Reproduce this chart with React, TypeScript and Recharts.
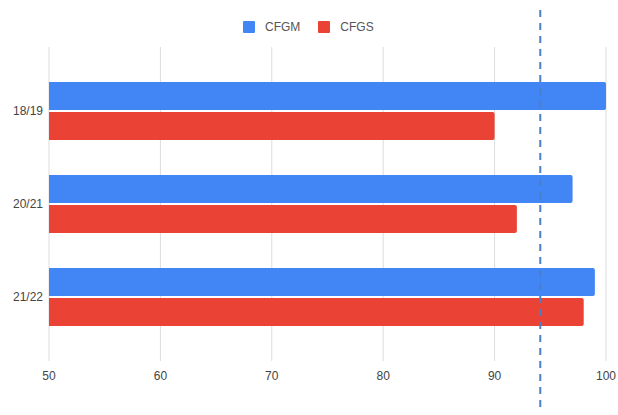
import React from "react";
import { BarChart, Bar, XAxis, YAxis, CartesianGrid, ReferenceLine } from "recharts";

const categories = ["18/19", "20/21", "21/22"];
const cfgm = [100, 97, 99];
const cfgs = [90, 92, 98];
const xTicks = [50, 60, 70, 80, 90, 100];
const targetValue = 94.1;

const seriesNames = ["CFGM", "CFGS"];
const seriesColors = ["#4285F4", "#EA4335"];

const data = categories.map((c, i) => ({ name: c, CFGM: cfgm[i], CFGS: cfgs[i] }));

const FONT = "'Liberation Sans', Arial, sans-serif";

const LegendContent = () => (
  <div style={{ position: "absolute", left: 243, top: 20, display: "flex", alignItems: "center", fontFamily: FONT, fontSize: 12, color: "#555", lineHeight: "14px" }}>
    {seriesNames.map((n, i) => (
      <div key={n} style={{ display: "flex", alignItems: "center", marginRight: i === 0 ? 18 : 0 }}>
        <div style={{ width: 12, height: 12, background: seriesColors[i], borderRadius: 1, marginRight: 10 }} />
        <span>{n}</span>
      </div>
    ))}
  </div>
);

const DashedShape = (props: any) => {
  const { x1, x2, y1, y2 } = props;
  const top = Math.min(y1, y2);
  const bottom = Math.max(y1, y2);
  return (
    <line x1={x1} x2={x2} y1={top - 37} y2={bottom + 50} stroke="#4a80c8" strokeWidth={2} strokeDasharray="7 6" />
  );
};

export default function App() {
  return (
    <div style={{ position: "absolute", left: 0, top: 0, width: 618, height: 415, background: "#fff" }}>
      <BarChart
        width={618}
        height={415}
        data={data}
        layout="vertical"
        margin={{ top: 47, right: 12, bottom: 24, left: 0 }}
        barCategoryGap={18}
        barGap={2}
      >
        <CartesianGrid horizontal={false} stroke="#dcdcdc" />
        <XAxis
          type="number"
          domain={[50, 100]}
          ticks={xTicks}
          axisLine={false}
          tickLine={false}
          height={30}
          tick={{ fill: "#444", fontSize: 12, fontFamily: FONT }}
          tickMargin={4}
          allowDataOverflow
        />
        <YAxis
          type="category"
          dataKey="name"
          width={49}
          axisLine={false}
          tickLine={false}
          padding={{ top: 17, bottom: 18 }}
          tick={{ fill: "#444", fontSize: 12, fontFamily: FONT }}
          tickMargin={0}
        />
        <Bar dataKey="CFGM" fill={seriesColors[0]} radius={[0, 2, 2, 0]} isAnimationActive={false} />
        <Bar dataKey="CFGS" fill={seriesColors[1]} radius={[0, 2, 2, 0]} isAnimationActive={false} />
        <ReferenceLine x={targetValue} shape={<DashedShape />} />
      </BarChart>
      <LegendContent />
    </div>
  );
}
